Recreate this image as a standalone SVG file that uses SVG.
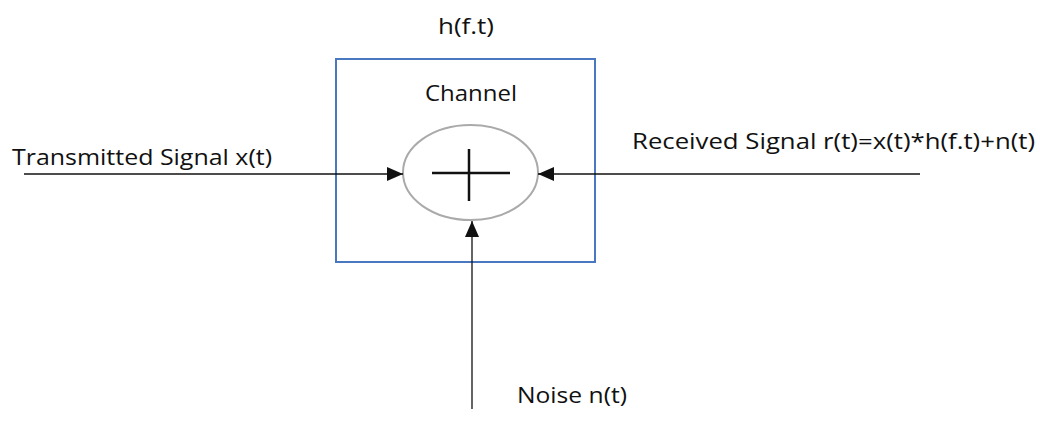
<svg xmlns="http://www.w3.org/2000/svg" width="1040" height="431" viewBox="0 0 1040 431">
<defs>
<style>
text{font-family:"Open Sans","Liberation Sans",sans-serif;font-size:21px;fill:#111}
.ln{stroke:#111;stroke-width:1.3;fill:none}
</style>
<marker id="ah" viewBox="0 0 16 14" refX="16" refY="7" markerWidth="16" markerHeight="14" markerUnits="userSpaceOnUse" orient="auto">
<path d="M0,0 L16,7 L0,14 Z" fill="#111"/>
</marker>
</defs>
<rect width="1040" height="431" fill="#fff"/>
<g id="channel">
<rect x="336" y="59" width="259" height="203" fill="none" stroke="#4a78c0" stroke-width="2"/>
<text x="425" y="101" textLength="92" lengthAdjust="spacingAndGlyphs">Channel</text>
<text x="438" y="34" textLength="56" lengthAdjust="spacingAndGlyphs">h(f.t)</text>
</g>
<g id="adder">
<ellipse cx="470.5" cy="172.5" rx="67.5" ry="47.5" fill="none" stroke="#aaa" stroke-width="2"/>
<line x1="432" y1="173" x2="510" y2="173" stroke="#111" stroke-width="2.5"/>
<line x1="469" y1="149" x2="469" y2="201" stroke="#111" stroke-width="2.5"/>
</g>
<g id="labels">
<text x="12" y="165" textLength="260" lengthAdjust="spacingAndGlyphs">Transmitted Signal x(t)</text>
<text x="632" y="149" textLength="403" lengthAdjust="spacingAndGlyphs">Received Signal r(t)=x(t)*h(f.t)+n(t)</text>
<text x="517" y="403" textLength="110" lengthAdjust="spacingAndGlyphs">Noise n(t)</text>
</g>
<g id="connectors">
<line class="ln" x1="24" y1="174" x2="403" y2="174" marker-end="url(#ah)"/>
<line class="ln" x1="920" y1="174" x2="538" y2="174" marker-end="url(#ah)"/>
<line class="ln" x1="472" y1="409" x2="472" y2="221" marker-end="url(#ah)"/>
</g>
</svg>
